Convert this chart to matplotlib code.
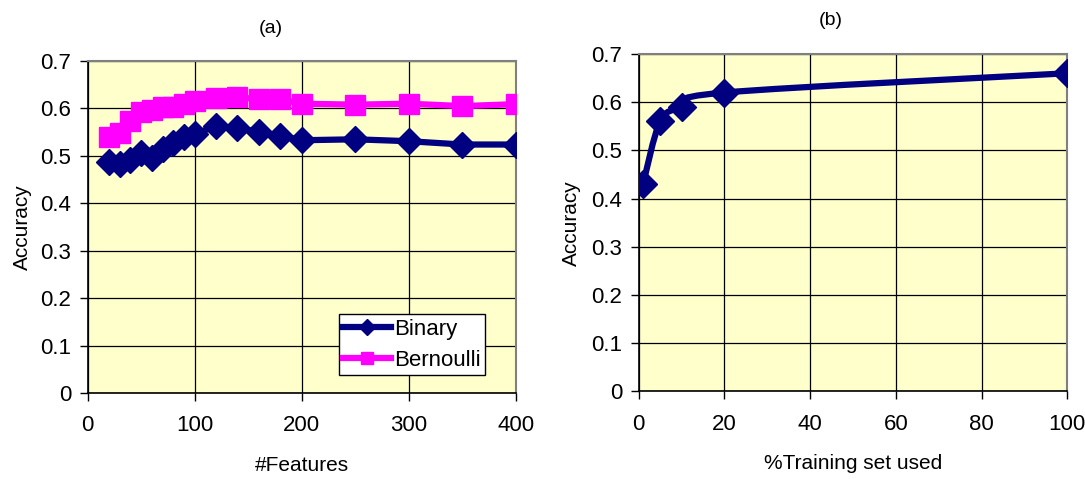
import numpy as np
import matplotlib
matplotlib.use("Agg")
import matplotlib.pyplot as plt
from matplotlib.path import Path
from matplotlib.patches import PathPatch
from matplotlib.transforms import IdentityTransform

plt.rcParams['font.family'] = ['Liberation Sans', 'DejaVu Sans']

# (a) accuracy vs number of features
features = [20, 30, 40, 50, 60, 70, 80, 90, 100, 120, 140, 160, 180, 200, 250, 300, 350, 400]
binary = [0.488, 0.483, 0.492, 0.507, 0.495, 0.515, 0.528, 0.540, 0.547, 0.562, 0.559,
          0.550, 0.543, 0.533, 0.535, 0.531, 0.524, 0.524]
bernoulli = [0.540, 0.549, 0.573, 0.593, 0.596, 0.603, 0.603, 0.610, 0.616, 0.623, 0.624,
             0.619, 0.619, 0.610, 0.608, 0.610, 0.605, 0.609]

# (b) accuracy vs training set fraction
train_pct = [1, 5, 10, 20, 100]
train_acc = [0.43, 0.56, 0.59, 0.62, 0.66]

navy = '#000080'
pink = '#FF00FF'
bg = '#FFFFCC'

fig = plt.figure(figsize=(10.85, 4.79), dpi=100)
ax1 = fig.add_axes([0.0808, 0.1790, 0.3945, 0.6937])
ax2 = fig.add_axes([0.5887, 0.1830, 0.3950, 0.7043])


def style(ax, xmax, xstep):
    ax.set_facecolor(bg)
    ax.set_xlim(0, xmax)
    ax.set_ylim(0, 0.7)
    ax.set_xticks(np.arange(0, xmax + 1, xstep))
    ax.set_yticks(np.arange(0, 0.71, 0.1))
    ax.set_yticklabels(['0', '0.1', '0.2', '0.3', '0.4', '0.5', '0.6', '0.7'])
    ax.grid(True, color='black', linewidth=0.9)
    ax.set_axisbelow(True)
    for s in ['top', 'right']:
        ax.spines[s].set_color('#808080')
        ax.spines[s].set_linewidth(1.5)
    for s in ['left', 'bottom']:
        ax.spines[s].set_color('black')
        ax.spines[s].set_linewidth(1.2)
    ax.tick_params(direction='out', length=6, width=1, labelsize=16)
    ax.tick_params(axis='x', pad=10)
    ax.tick_params(axis='y', pad=6)


style(ax1, 400, 100)
ax1.plot(features, binary, color=navy, lw=4.5, marker='D', ms=13, label='Binary', zorder=3)
ax1.plot(features, bernoulli, color=pink, lw=4.5, marker='s', ms=14, label='Bernoulli', zorder=3)
ax1.set_ylabel('Accuracy', fontsize=15, labelpad=6)
ax1.set_xlabel('#Features', fontsize=15, labelpad=14)
ax1.set_title('(a)', fontsize=14, pad=20, x=0.428)
leg = ax1.legend(loc='lower right', bbox_to_anchor=(0.929, 0.055), fontsize=16, frameon=True,
                 fancybox=False, edgecolor='black', framealpha=1, handlelength=2.15,
                 borderpad=0.2, labelspacing=0.45, handletextpad=0.15, markerscale=0.65,
                 borderaxespad=0)
leg.get_frame().set_linewidth(1)

style(ax2, 100, 20)
ax2.plot(train_pct, train_acc, ls='none', color=navy, marker='D', ms=14, zorder=4)
ax2.set_ylabel('Accuracy', fontsize=15, labelpad=7)
ax2.set_xlabel('%Training set used', fontsize=15, labelpad=14)
ax2.set_title('(b)', fontsize=14, pad=21, x=0.447)

# smoothed line (Excel-style) built in display space from the data points
pts = ax2.transData.transform(np.column_stack([train_pct, train_acc]))
verts = [pts[0]]
codes = [Path.MOVETO]
n = len(pts)
for i in range(n - 1):
    p0 = pts[i - 1] if i > 0 else pts[i]
    p1 = pts[i]
    p2 = pts[i + 1]
    p3 = pts[i + 2] if i + 2 < n else pts[i + 1]
    c1 = p1 + (p2 - p0) / 6.0
    c2 = p2 - (p3 - p1) / 6.0
    verts += [c1, c2, p2]
    codes += [Path.CURVE4] * 3
patch = PathPatch(Path(verts, codes), transform=IdentityTransform(), facecolor='none',
                  edgecolor=navy, lw=4.5, zorder=3, clip_on=False)
fig.add_artist(patch)

fig.savefig('out.png', dpi=100)
